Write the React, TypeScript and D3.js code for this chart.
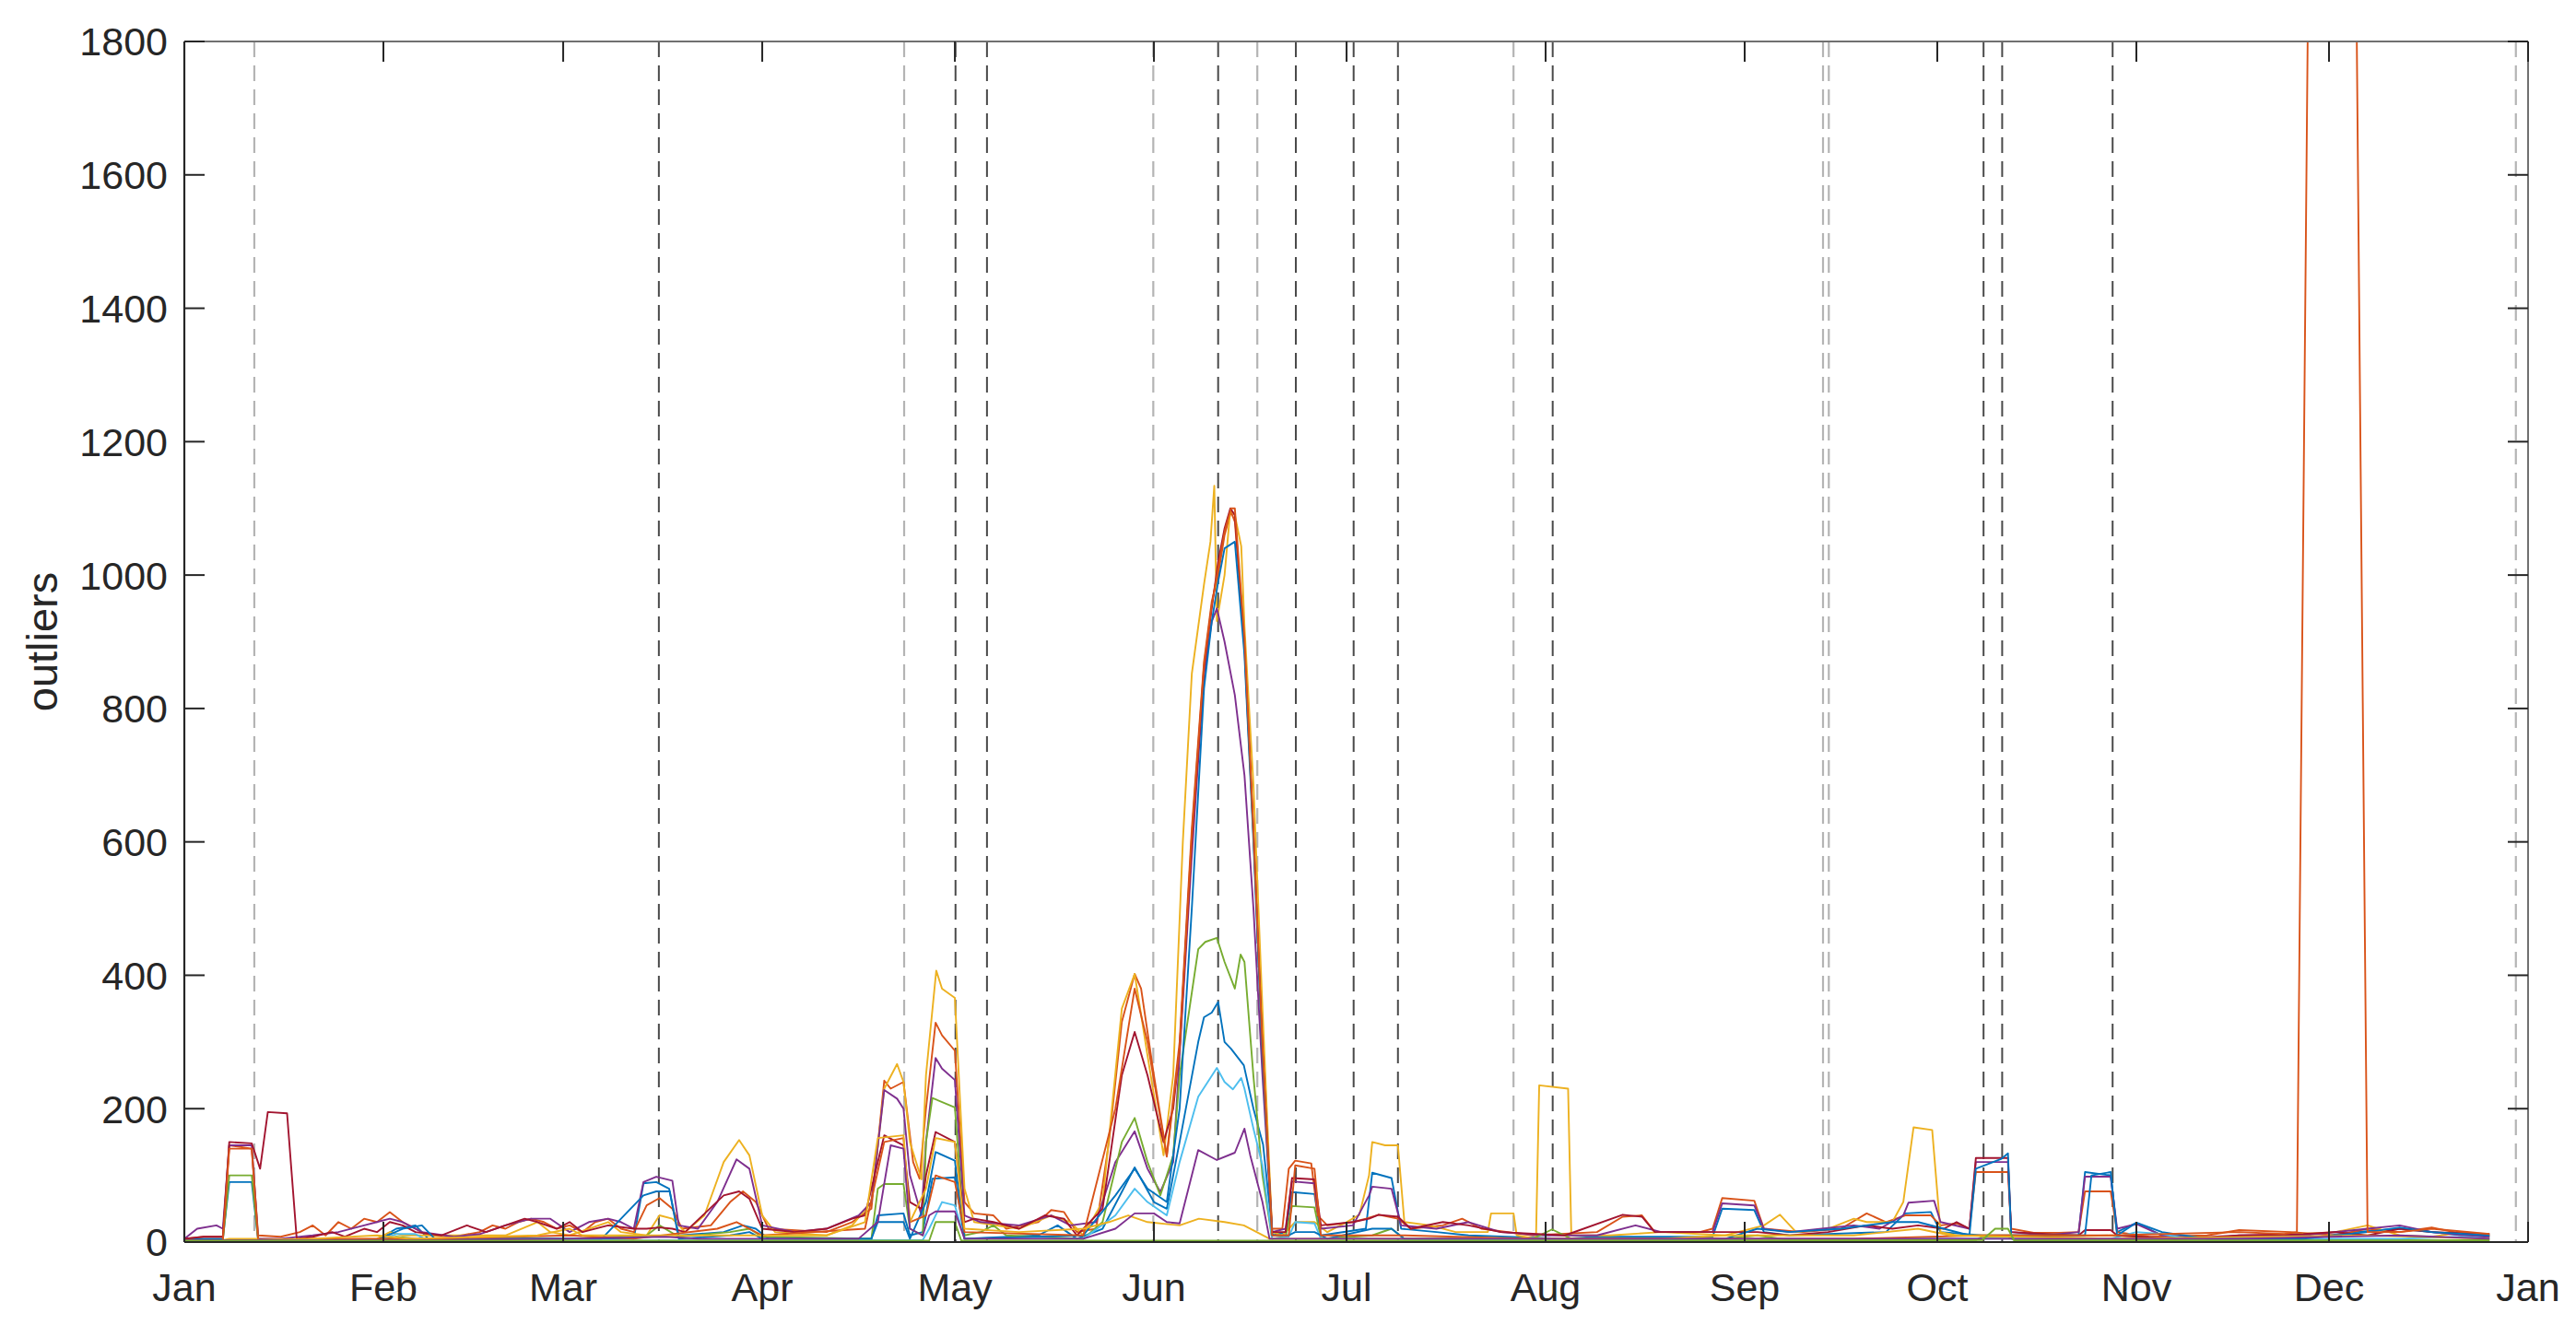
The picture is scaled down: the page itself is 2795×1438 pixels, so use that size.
import React from "react";
import * as d3 from "d3";

// ---------- data ----------
const monthLabels = ["Jan", "Feb", "Mar", "Apr", "May", "Jun", "Jul", "Aug", "Sep", "Oct", "Nov", "Dec", "Jan"];
const monthStartDays = [0, 31, 59, 90, 120, 151, 181, 212, 243, 273, 304, 334, 365];
const yTicks = [0, 200, 400, 600, 800, 1000, 1200, 1400, 1600, 1800];

const eventDaysDark = [73.9, 120.1, 125.0, 161.0, 173.1, 182.1, 189.0, 213.1, 280.2, 283.1, 300.3];
const eventDaysLight = [10.9, 112.1, 150.9, 167.1, 207.0, 255.2, 256.1, 363.1];

const seriesColors = ["#0072BD", "#D95319", "#EDB120", "#7E2F8E", "#77AC30", "#4DBEEE", "#A2142F", "#0072BD", "#D95319", "#EDB120", "#7E2F8E", "#77AC30"];

type P = [number, number];

const s1: P[] = [[0,5],[6,5],[7,90],[10.5,90],[11.5,3],[30,3],[33,20],[36,25],[38,5],[70,5],[71.5,88],[73.5,90],[75.5,80],[77,10],[84,15],[87,25],[89,20],[91,5],[107,5],[108,40],[112,43],[113,10],[115,15],[116.5,95],[120,97],[121.5,5],[133,10],[136,25],[139,5],[143,20],[148,112],[151,60],[153,50],[155,150],[157.9,300],[158.8,337],[160,344],[161,360],[162,300],[163,290],[165,265],[166.5,200],[168,146],[169.5,10],[171.5,15],[172.5,75],[176,72],[177,10],[184,20],[185,104],[188,96],[189.5,20],[195,15],[200,10],[215,5],[220,8],[238,8],[239.5,50],[244.5,48],[246,15],[250,10],[265,15],[268,43],[272,45],[273.5,15],[280,10],[295,10],[296,105],[300,100],[301,15],[304,29],[308,10],[320,5],[330,5],[338,15],[345,20],[355,10],[359,8]];

const s2: P[] = [[0,5],[3,8],[6,8],[7,145],[10.5,140],[11.5,10],[15,8],[18,15],[20,25],[22,10],[24,30],[26,20],[28,35],[30,30],[32,45],[34,30],[36,20],[38,10],[42,8],[46,15],[48,25],[50,20],[52,30],[54,35],[56,30],[58,20],[60,25],[62,15],[64,30],[66,35],[68,20],[70,15],[72,55],[74,66],[76,50],[77.5,20],[82,25],[85,60],[87,76],[89,60],[91,20],[100,15],[104,30],[107,50],[109,242],[110,230],[112,240],[113.5,120],[114.5,95],[115.5,200],[117,329],[118,310],[120,287],[121.5,60],[123,43],[126,40],[128,20],[133,30],[135,48],[137,45],[139,15],[142,20],[144,150],[146,330],[148,402],[149,380],[151,250],[153,130],[155,300],[156.9,620],[158.8,870],[160,960],[161,1000],[162,1060],[163,1095],[163.6,1080],[165.1,900],[166.5,620],[167.9,300],[169.4,20],[171,20],[172,110],[173,122],[175.5,118],[176.5,40],[178,25],[182,30],[184,35],[186,41],[189,35],[191,20],[196,25],[199,35],[202,20],[210,10],[220,15],[224,38],[227,40],[229,15],[236,15],[238,20],[239.5,66],[244.5,62],[246,20],[252,15],[258,20],[262,43],[265,30],[268,40],[272,40],[273.5,25],[276,28],[278,20],[279,105],[284,105],[284.5,20],[288,14],[292,14],[295,15],[296,76],[300,76],[301,15],[306,8],[315,10],[320,18],[328,15],[335,10],[340,20],[345,15],[350,22],[355,12],[359,10]];

const s3: P[] = [[0,3],[6,3],[7,5],[11,5],[20,3],[30,5],[32,15],[34,10],[50,10],[55,30],[57,15],[60,10],[66,30],[68,15],[72,10],[74,40],[76,35],[78,15],[81,40],[84,120],[86.4,153],[88,130],[90,40],[92,15],[100,10],[104,25],[107,60],[109,230],[111,267],[112,240],[113,150],[114.8,94],[115.5,250],[117.1,407],[118,380],[120,366],[121.5,80],[123,30],[130,20],[135,40],[138,30],[140,10],[143,60],[146,350],[148,402],[150,280],[152.5,130],[154,250],[155.5,600],[156.9,852],[158.8,986],[159.8,1050],[160.4,1134],[160.8,931],[162,1000],[162.9,1098],[163.6,1090],[164.6,1043],[165.1,923],[166.5,685],[167.9,350],[169.4,15],[171,10],[173,30],[176,30],[178,15],[181,30],[183,41],[184.5,100],[185,150],[187,145],[189,145],[190,30],[194,25],[198,15],[203,15],[203.5,43],[207,43],[207.5,10],[210.5,5],[211,235],[215.5,230],[216,10],[222,10],[230,15],[240,10],[246,25],[248.5,41],[251,15],[256,20],[260,35],[262,30],[266,30],[267.7,60],[269.3,172],[272.2,168],[273.5,15],[276,10],[285,10],[290,8],[300,10],[310,5],[325,10],[335,15],[340,25],[345,10],[350,8],[355,15],[359,10]];

const s4: P[] = [[0,5],[2,20],[5,25],[6,20],[7,145],[10.5,145],[11.5,5],[15,5],[20,10],[24,15],[28,25],[30,30],[32,35],[34,30],[37,15],[42,8],[46,12],[50,25],[54,35],[57,35],[60,15],[63,30],[66,35],[68,30],[70,20],[71.5,90],[73.5,98],[76,92],[77,25],[80,20],[83,60],[86,124],[88,110],[90,25],[95,15],[100,20],[105,40],[107,60],[109,228],[111,215],[112,200],[113,100],[114.8,40],[115.5,150],[117,276],[118,260],[120,243],[121.5,40],[124,30],[130,25],[135,40],[138,25],[142,30],[145,120],[148,166],[150,110],[152,75],[154,120],[155,280],[156.9,580],[158.8,850],[160,930],[160.8,950],[162,900],[163.6,820],[165.1,700],[166.5,500],[167.9,250],[169.4,15],[171.5,20],[172.5,91],[176,88],[177,20],[182,25],[184.5,70],[185,83],[188,80],[189.5,25],[195,20],[200,30],[205,15],[212,10],[220,10],[226,25],[230,15],[238,15],[239.5,58],[244.5,55],[246,20],[250,15],[255,20],[260,25],[264,20],[267.7,40],[268.5,59],[272.5,62],[273.5,30],[278,20],[279,120],[284,120],[284.5,15],[290,10],[295,15],[296,98],[300,98],[301,20],[304,27],[308,10],[315,5],[320,10],[330,10],[340,20],[345,25],[350,15],[355,10],[359,8]];

const s5: P[] = [[0,3],[6,3],[7,100],[10.5,100],[11.5,3],[30,3],[33,8],[36,5],[60,5],[72,10],[74,25],[77,8],[85,15],[88,20],[90,8],[107,5],[108,80],[109,87],[112,87],[113,20],[115,10],[115.5,150],[116.5,216],[120,202],[121.5,10],[124,15],[126,25],[128,10],[140,5],[143,30],[146,150],[148,186],[150,120],[152,70],[154,130],[155,250],[157.9,439],[159,450],[160.8,456],[162,420],[163.6,380],[164.5,431],[165.1,420],[166.5,248],[167.9,100],[169.4,5],[171.5,8],[172.5,54],[176,52],[177,5],[185,10],[188,20],[190,5],[210,5],[213,19],[216,5],[240,5],[245,10],[250,3],[279,3],[280,8],[284,8],[285,3],[320,3],[340,3],[359,3]];

const s6: P[] = [[0,2],[10,2],[30,2],[33,12],[36,12],[38,2],[60,2],[100,3],[108,3],[115,3],[116,20],[118,60],[120,55],[121.5,5],[140,5],[145,40],[148,80],[150,60],[153,40],[155,120],[157.9,218],[160.8,261],[162,240],[163.3,229],[164.6,246],[165.1,230],[166.5,170],[167.9,115],[169.4,5],[172,8],[173,30],[176,28],[177,5],[185,5],[200,3],[240,3],[245,5],[260,5],[270,5],[300,5],[304,15],[308,12],[312,5],[345,5],[355,8],[359,5]];

const s7: P[] = [[0,5],[3,8],[6,8],[7,150],[10.5,148],[11.8,110],[13,195],[16,193],[17.5,5],[20,8],[23,15],[25,8],[28,20],[30,15],[32,30],[34,25],[36,15],[40,10],[44,25],[47,15],[50,25],[53,35],[55,30],[58,20],[60,30],[62,15],[66,25],[70,20],[72,20],[74,22],[76,20],[78,15],[84,70],[86.4,76],[88,65],[90,20],[95,15],[100,20],[104,35],[106,40],[107,80],[109,160],[112,145],[113,60],[114.8,50],[115.5,100],[117,165],[120,150],[121.5,30],[123,35],[126,30],[130,20],[134,40],[137,35],[139,10],[143,50],[146,250],[148,315],[150,250],[152.5,150],[154,200],[155,290],[156.9,600],[158.8,860],[160,950],[161,1020],[162,1070],[162.9,1100],[163.6,1090],[165.1,890],[166.5,610],[167.9,289],[169.4,15],[171.5,15],[172.5,96],[176,94],[177,25],[182,30],[184.5,35],[186,41],[189,38],[191,20],[196,30],[200,25],[205,15],[215,10],[224,41],[227,38],[229,15],[240,15],[245,15],[250,10],[256,15],[262,25],[266,20],[270,25],[274,20],[276,30],[278,20],[279,126],[284,126],[284.5,15],[290,12],[295,10],[296,18],[300,18],[301,10],[310,5],[320,10],[330,12],[335,15],[340,10],[345,20],[350,15],[359,12]];

const s8: P[] = [[0,3],[10,3],[30,3],[34,20],[37,25],[39,5],[65,5],[71.5,70],[73.5,76],[75.6,76],[77,5],[85,10],[88,15],[90,5],[107,5],[108,30],[112,30],[113,5],[115.5,60],[117,135],[120,122],[121.5,5],[140,10],[145,70],[148,110],[150,80],[153,60],[155,200],[156.9,500],[158.8,830],[160,930],[161,990],[162,1040],[163.6,1050],[165.1,880],[166.5,600],[167.9,280],[169.4,10],[172,10],[173,15],[176,15],[178,5],[185,20],[188,20],[190,5],[240,5],[245,20],[250,15],[258,20],[266,30],[270,30],[274,20],[278,10],[279,110],[283,125],[284,133],[284.5,10],[296,10],[297,100],[300,105],[301,10],[304,29],[308,15],[315,5],[330,5],[340,15],[345,22],[350,15],[359,10]];

const s9: P[] = [[0,3],[6,3],[7,140],[10.5,140],[11.5,3],[20,5],[40,5],[60,10],[70,5],[83,20],[86,30],[90,10],[106,20],[109,150],[112,156],[113,30],[115.5,40],[117,100],[120,90],[121.5,15],[140,10],[145,200],[148,380],[150,300],[153,128],[155,290],[156.9,610],[158.8,865],[160,955],[161,1010],[162,1065],[163,1100],[163.6,1100],[165.1,905],[166.5,615],[167.9,295],[169.4,10],[172,10],[173,115],[176,110],[177,10],[190,10],[210,5],[260,5],[280,10],[300,10],[320,15],[327,12],[329,15],[331,2150],[338,2150],[340,15],[345,15],[350,20],[359,12]];

const s10: P[] = [[0,3],[10,3],[20,5],[30,10],[35,5],[55,10],[60,20],[62,10],[80,10],[100,10],[106,30],[108,156],[112,160],[113,30],[115.5,80],[117,156],[120,150],[121.5,20],[130,15],[140,20],[144,30],[147,40],[150,30],[155,25],[158,35],[162,30],[165,25],[169,5],[190,5],[230,5],[240,10],[260,10],[270,20],[275,10],[300,5],[340,10],[359,5]];

const s11: P[] = [[0,3],[10,3],[40,3],[60,5],[75,8],[80,5],[105,5],[108,30],[110,145],[112,140],[113,20],[115,10],[116,40],[117,46],[120,46],[121.5,5],[140,5],[145,20],[148,43],[151,43],[153,30],[155,28],[157.9,138],[160.8,123],[163.6,134],[165.1,170],[166,130],[167.9,60],[169,5],[190,5],[240,5],[290,5],[320,5],[345,10],[359,5]];

const s12: P[] = [[0,2],[50,2],[100,2],[116,2],[117,30],[120,30],[121,2],[170,2],[220,2],[280,3],[282,20],[284,20],[285,2],[359,2]];

const allSeries: P[][] = [s1, s2, s3, s4, s5, s6, s7, s8, s9, s10, s11, s12];

// ---------- layout ----------
const W = 2795;
const H = 1438;
const M = { left: 200, top: 45, right: 2743, bottom: 1348 };
const FONT = "'Liberation Sans', Arial, Helvetica, sans-serif";
const TXT = "#262626";

export default function App() {
  const x = d3.scaleLinear().domain([0, 365]).range([M.left, M.right]);
  const y = d3.scaleLinear().domain([0, 1800]).range([M.bottom, M.top]);
  const line = d3
    .line<P>()
    .x((d) => x(d[0]))
    .y((d) => y(d[1]));
  const tickLen = 22;

  return (
    <div style={{ position: "absolute", left: 0, top: 0, width: W, height: H, overflow: "hidden", background: "#fff" }}>
      <svg width={W} height={H} style={{ display: "block" }}>
        <defs>
          <clipPath id="plotClip">
            <rect x={M.left} y={M.top} width={M.right - M.left} height={M.bottom - M.top} />
          </clipPath>
        </defs>
        <rect x={0} y={0} width={W} height={H} fill="#fff" />

        {/* event dashed lines */}
        {eventDaysLight.map((d, i) => (
          <line key={"l" + i} x1={x(d)} x2={x(d)} y1={M.top} y2={M.bottom} stroke="#b4b4b4" strokeWidth={2.2} strokeDasharray="17,9" />
        ))}
        {eventDaysDark.map((d, i) => (
          <line key={"d" + i} x1={x(d)} x2={x(d)} y1={M.top} y2={M.bottom} stroke="#4a4a4a" strokeWidth={2} strokeDasharray="17,9" />
        ))}

        {/* data */}
        <g clipPath="url(#plotClip)">
          {allSeries.map((s, i) => (
            <path key={i} d={line(s) || ""} fill="none" stroke={seriesColors[i]} strokeWidth={1.9} strokeLinejoin="round" />
          ))}
        </g>

        {/* box */}
        <line x1={M.left} x2={M.right} y1={M.top} y2={M.top} stroke="#707070" strokeWidth={2} />
        <line x1={M.right} x2={M.right} y1={M.top} y2={M.bottom} stroke="#707070" strokeWidth={2} />
        <line x1={M.left} x2={M.right} y1={M.bottom} y2={M.bottom} stroke={TXT} strokeWidth={2.2} />
        <line x1={M.left} x2={M.left} y1={M.top} y2={M.bottom} stroke={TXT} strokeWidth={2.2} />

        {/* y ticks */}
        {yTicks.map((t) => (
          <g key={"y" + t}>
            <line x1={M.left} x2={M.left + tickLen} y1={y(t)} y2={y(t)} stroke={TXT} strokeWidth={2} />
            <line x1={M.right - tickLen} x2={M.right} y1={y(t)} y2={y(t)} stroke={TXT} strokeWidth={2} />
            <text x={M.left - 18} y={y(t)} dy="0.36em" textAnchor="end" fontFamily={FONT} fontSize={43} fill={TXT}>
              {t}
            </text>
          </g>
        ))}

        {/* x ticks */}
        {monthStartDays.map((d, i) => (
          <g key={"x" + i}>
            <line x1={x(d)} x2={x(d)} y1={M.bottom} y2={M.bottom - tickLen} stroke={TXT} strokeWidth={2} />
            <line x1={x(d)} x2={x(d)} y1={M.top} y2={M.top + tickLen} stroke={TXT} strokeWidth={2} />
            <text x={x(d)} y={1412} textAnchor="middle" fontFamily={FONT} fontSize={43} fill={TXT}>
              {monthLabels[i]}
            </text>
          </g>
        ))}

        {/* y label */}
        <text
          transform={`translate(62, ${(M.top + M.bottom) / 2}) rotate(-90)`}
          textAnchor="middle"
          fontFamily={FONT}
          fontSize={47}
          fill={TXT}
        >
          outliers
        </text>
      </svg>
    </div>
  );
}
